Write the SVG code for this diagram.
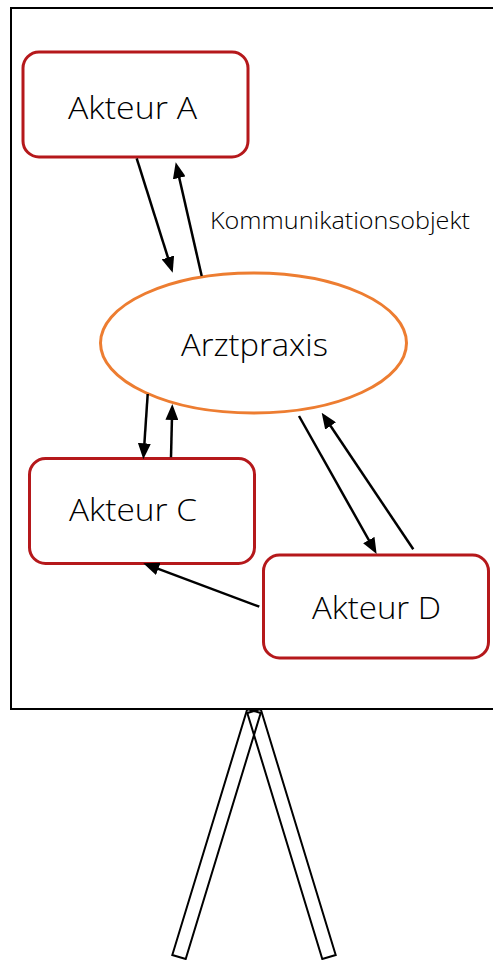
<svg xmlns="http://www.w3.org/2000/svg" width="493" height="960" viewBox="0 0 493 960">
<style>
.leg{fill:none;stroke:#000;stroke-width:2}
.frame{fill:#fff;stroke:#000;stroke-width:2}
.actor{fill:#fff;stroke:#B5181B;stroke-width:3}
.hub{fill:#fff;stroke:#ED7D31;stroke-width:3}
.lbl{font-family:"Open Sans","Noto Sans",sans-serif;font-weight:300;fill:#000}
.big{font-size:32px}
.small{font-size:23px}
.conn line{stroke:#000;stroke-width:2.5;marker-end:url(#ah)}
</style>
<defs>
<marker id="ah" markerUnits="userSpaceOnUse" markerWidth="16" markerHeight="13" refX="12" refY="6.5" orient="auto">
<path d="M0,0 L16,6.5 L0,13 z" fill="#000"/>
</marker>
</defs>
<g id="stand">
<polygon class="leg" points="247.3,709 260.7,713 185.7,959 172.3,955"/>
<polygon class="leg" points="247.3,713 260.7,709 335.7,955 322.3,959"/>
</g>
<rect id="board" class="frame" x="11" y="8" width="500" height="701"/>
<g id="akteurA">
<rect class="actor" x="23" y="52" width="225" height="105" rx="16"/>
<text class="lbl big" x="132.5" y="119" text-anchor="middle" textLength="129" lengthAdjust="spacingAndGlyphs">Akteur A</text>
</g>
<g id="arztpraxis">
<ellipse class="hub" cx="253.5" cy="343" rx="153" ry="70"/>
<text class="lbl big" x="254.5" y="356" text-anchor="middle" textLength="147" lengthAdjust="spacingAndGlyphs">Arztpraxis</text>
</g>
<g id="akteurC">
<rect class="actor" x="29.5" y="458.5" width="225" height="105" rx="16"/>
<text class="lbl big" x="133" y="521" text-anchor="middle" textLength="128" lengthAdjust="spacingAndGlyphs">Akteur C</text>
</g>
<g id="akteurD">
<rect class="actor" x="263.5" y="555" width="225" height="103" rx="16"/>
<text class="lbl big" x="376.5" y="618.5" text-anchor="middle" textLength="129" lengthAdjust="spacingAndGlyphs">Akteur D</text>
</g>
<g id="label-kommunikationsobjekt">
<text class="lbl small" x="210" y="229" textLength="260" lengthAdjust="spacingAndGlyphs">Kommunikationsobjekt</text>
</g>
<g id="connectors" class="conn">
<line x1="136.7" y1="158.3" x2="171.5" y2="268.9"/>
<line x1="201.7" y1="276" x2="176.6" y2="166.2"/>
<line x1="147.7" y1="394" x2="143.6" y2="455.3"/>
<line x1="171" y1="457.3" x2="172.2" y2="408"/>
<line x1="299" y1="416" x2="374.7" y2="550.5"/>
<line x1="413.3" y1="549.3" x2="323.9" y2="416"/>
<line x1="259.3" y1="606.7" x2="147" y2="564.7"/>
</g>
</svg>
